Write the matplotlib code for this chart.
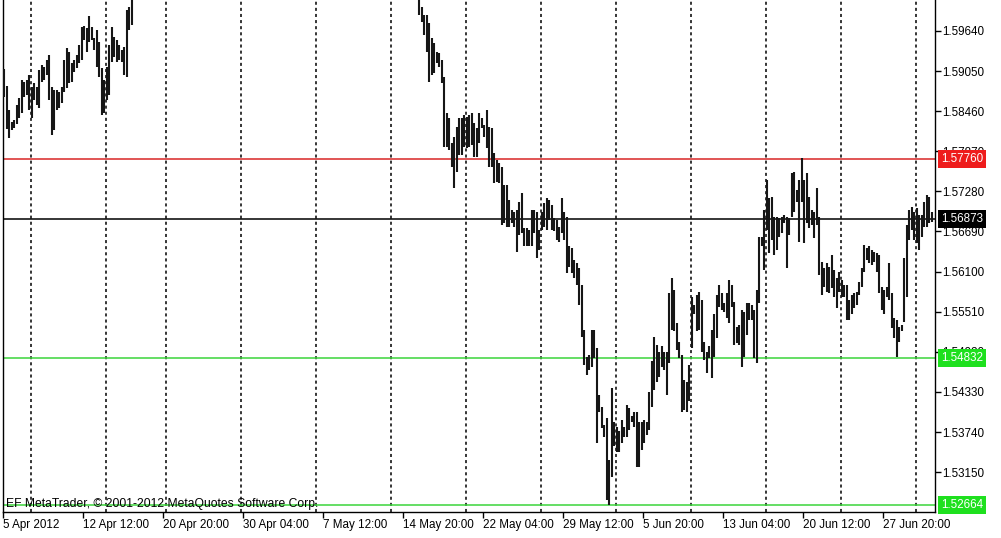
import matplotlib
matplotlib.use("Agg")
import matplotlib.pyplot as plt
import matplotlib.transforms as mtransforms
import numpy as np

# GBPUSD-style H4 bars (late April bars sit above the window)
left_start = 0
left_highs = [1.5908, 1.5883, 1.5848, 1.5830, 1.5833, 1.5855, 1.5866, 1.5892, 1.5889, 1.5892,
              1.5899, 1.5882, 1.5888, 1.5882, 1.5907, 1.5914, 1.5911, 1.5921, 1.5929, 1.5882,
              1.5877, 1.5877, 1.5874, 1.5882, 1.5921, 1.5939, 1.5933, 1.5917, 1.5921, 1.5929,
              1.5943, 1.5970, 1.5971, 1.5968, 1.5986, 1.5970, 1.5954, 1.5966, 1.5948, 1.5910,
              1.5892, 1.5911, 1.5943, 1.5970, 1.5955, 1.5951, 1.5943, 1.5936, 1.5941, 1.5995,
              1.5999, 1.6017]
left_lows = [1.5867, 1.5820, 1.5807, 1.5818, 1.5821, 1.5827, 1.5836, 1.5844, 1.5867, 1.5870,
             1.5848, 1.5836, 1.5863, 1.5855, 1.5851, 1.5889, 1.5892, 1.5899, 1.5863, 1.5811,
             1.5818, 1.5848, 1.5851, 1.5858, 1.5874, 1.5880, 1.5888, 1.5889, 1.5904, 1.5910,
             1.5917, 1.5921, 1.5951, 1.5933, 1.5948, 1.5951, 1.5936, 1.5911, 1.5896, 1.5841,
             1.5844, 1.5863, 1.5870, 1.5918, 1.5926, 1.5918, 1.5921, 1.5918, 1.5899, 1.5896,
             1.5966, 1.5973]

right_start = 166
right_highs = [1.6017, 1.5999, 1.5988, 1.5988, 1.5976, 1.5954, 1.5946, 1.5933, 1.5932, 1.5921,
               1.5896, 1.5844, 1.5836, 1.5799, 1.5808, 1.5823, 1.5836, 1.5836, 1.5841, 1.5838,
               1.5841, 1.5844, 1.5829, 1.5821, 1.5844, 1.5836, 1.5826, 1.5848, 1.5823, 1.5821,
               1.5785, 1.5774, 1.5770, 1.5764, 1.5738, 1.5738, 1.5715, 1.5701, 1.5698, 1.5701,
               1.5713, 1.5726, 1.5674, 1.5674, 1.5671, 1.5701, 1.5701, 1.5697, 1.5671, 1.5697,
               1.5711, 1.5719, 1.5715, 1.5708, 1.5689, 1.5686, 1.5676, 1.5719, 1.5698, 1.5691,
               1.5647, 1.5645, 1.5627, 1.5623, 1.5616,
               1.5591, 1.5524, 1.5485, 1.5488, 1.5524, 1.5524, 1.5498, 1.5429, 1.5411, 1.5385,
               1.5395, 1.5333, 1.5439, 1.5388, 1.5382, 1.5375, 1.5392, 1.5382, 1.5414, 1.5410,
               1.5397, 1.5404, 1.5403, 1.5388, 1.5388, 1.5392, 1.5388, 1.5433, 1.5478, 1.5514,
               1.5502, 1.5491, 1.5500, 1.5492, 1.5491, 1.5579, 1.5601, 1.5583, 1.5535, 1.5507,
               1.5488, 1.5451, 1.5448, 1.5473, 1.5573, 1.5561, 1.5576, 1.5580, 1.5568, 1.5507,
               1.5492, 1.5500, 1.5524, 1.5547, 1.5576, 1.5591, 1.5579, 1.5564, 1.5579, 1.5598,
               1.5591, 1.5566, 1.5529, 1.5532, 1.5554, 1.5551, 1.5564, 1.5564, 1.5561, 1.5554,
               1.5583, 1.5661, 1.5661, 1.5701, 1.5745, 1.5719, 1.5720, 1.5691, 1.5691, 1.5689,
               1.5691, 1.5694, 1.5691, 1.5689, 1.5755, 1.5757, 1.5730, 1.5745, 1.5777, 1.5745,
               1.5755, 1.5720, 1.5701, 1.5697, 1.5733, 1.5691, 1.5624, 1.5616, 1.5623, 1.5617,
               1.5635, 1.5612, 1.5601, 1.5610, 1.5598, 1.5591, 1.5591, 1.5568, 1.5576, 1.5579,
               1.5580, 1.5595, 1.5616, 1.5649, 1.5645, 1.5647, 1.5642, 1.5639, 1.5638, 1.5635,
               1.5588, 1.5583, 1.5588, 1.5623, 1.5579, 1.5542, 1.5539, 1.5529, 1.5532, 1.5630,
               1.5679, 1.5701, 1.5705, 1.5697, 1.5704, 1.5694, 1.5694, 1.5713, 1.5723, 1.5720,
               1.5698]
right_lows = [1.5988, 1.5977, 1.5958, 1.5933, 1.5889, 1.5899, 1.5902, 1.5917, 1.5911, 1.5888,
              1.5794, 1.5794, 1.5789, 1.5764, 1.5733, 1.5757, 1.5782, 1.5782, 1.5794, 1.5792,
              1.5794, 1.5796, 1.5779, 1.5779, 1.5799, 1.5821, 1.5808, 1.5792, 1.5764, 1.5764,
              1.5741, 1.5742, 1.5741, 1.5679, 1.5682, 1.5676, 1.5676, 1.5682, 1.5676, 1.5639,
              1.5664, 1.5667, 1.5647, 1.5647, 1.5647, 1.5647, 1.5667, 1.5630, 1.5642, 1.5671,
              1.5676, 1.5671, 1.5686, 1.5671, 1.5669, 1.5657, 1.5654, 1.5667, 1.5657, 1.5608,
              1.5617, 1.5608, 1.5601, 1.5591, 1.5561,
              1.5514, 1.5473, 1.5458, 1.5465, 1.5469, 1.5483, 1.5358, 1.5403, 1.5380, 1.5366,
              1.5274, 1.5267, 1.5308, 1.5353, 1.5344, 1.5344, 1.5358, 1.5367, 1.5366, 1.5377,
              1.5388, 1.5382, 1.5322, 1.5323, 1.5348, 1.5358, 1.5370, 1.5377, 1.5411, 1.5436,
              1.5447, 1.5455, 1.5469, 1.5465, 1.5429, 1.5476, 1.5524, 1.5522, 1.5495, 1.5483,
              1.5404, 1.5406, 1.5404, 1.5419, 1.5498, 1.5547, 1.5522, 1.5524, 1.5492, 1.5480,
              1.5461, 1.5483, 1.5454, 1.5485, 1.5513, 1.5558, 1.5554, 1.5550, 1.5542, 1.5535,
              1.5558, 1.5502, 1.5505, 1.5502, 1.5470, 1.5485, 1.5517, 1.5539, 1.5539, 1.5483,
              1.5476, 1.5564, 1.5647, 1.5612, 1.5671, 1.5638, 1.5657, 1.5635, 1.5642, 1.5661,
              1.5667, 1.5682, 1.5616, 1.5664, 1.5691, 1.5697, 1.5713, 1.5654, 1.5713, 1.5652,
              1.5682, 1.5674, 1.5679, 1.5660, 1.5679, 1.5605, 1.5576, 1.5588, 1.5580, 1.5579,
              1.5586, 1.5572, 1.5557, 1.5580, 1.5573, 1.5573, 1.5539, 1.5539, 1.5547, 1.5557,
              1.5561, 1.5576, 1.5588, 1.5610, 1.5627, 1.5623, 1.5620, 1.5624, 1.5610, 1.5579,
              1.5554, 1.5547, 1.5573, 1.5568, 1.5527, 1.5513, 1.5485, 1.5507, 1.5522, 1.5536,
              1.5573, 1.5657, 1.5671, 1.5657, 1.5652, 1.5642, 1.5661, 1.5676, 1.5676, 1.5682,
              1.5683]

# first bar of each trading week (vertical separators)
week_starts = [11, 41, 65, 95, 125, 155, 185, 215, 245, 275, 305, 335, 365]

date_bars = [0, 32, 64, 96, 128, 160, 192, 224, 256, 288, 320, 352]
date_labels = ["5 Apr 2012", "12 Apr 12:00", "20 Apr 20:00", "30 Apr 04:00", "7 May 12:00",
               "14 May 20:00", "22 May 04:00", "29 May 12:00", "5 Jun 20:00", "13 Jun 04:00",
               "20 Jun 12:00", "27 Jun 20:00"]

price_ticks = [1.59640, 1.59050, 1.58460, 1.57870, 1.57280, 1.56690,
               1.56100, 1.55510, 1.54920, 1.54330, 1.53740, 1.53150]

levels = [1.57760, 1.56873, 1.54832, 1.52664]
level_line_colors = ["#d92626", "#000000", "#3ad43a", "#3ad43a"]
level_box_colors = ["#ee1c1c", "#000000", "#1ee01e", "#1ee01e"]

plt.rcParams["font.family"] = ["Liberation Sans", "DejaVu Sans"]
plt.rcParams["font.size"] = 8.4

W, H = 1001, 538
fig = plt.figure(figsize=(W / 100, H / 100), dpi=100)
ax = fig.add_axes([3 / W, 26 / H, 932 / W, 512 / H])

for w in week_starts:
    ax.axvline(w - 0.5, color="black", linewidth=1.1, linestyle=(0, (2, 2)), zorder=1)

for y, c in zip(levels, level_line_colors):
    ax.axhline(y, color=c, linewidth=1.1, zorder=2)

for start, hi, lo in [(left_start, left_highs, left_lows), (right_start, right_highs, right_lows)]:
    idx = np.arange(start, start + len(hi))
    ax.vlines(idx, lo, hi, color="#161616", linewidth=1.5, zorder=3)

ax.set_xlim(-0.5, 372.3)
ax.set_ylim(1.52563, 1.60096)

ax.set_xticks([b - 0.5 for b in date_bars])
ax.set_xticklabels(date_labels)
for lab in ax.get_xticklabels():
    lab.set_horizontalalignment("left")
ax.tick_params(axis="x", length=4, width=1, pad=1.0, colors="black")

ax.yaxis.tick_right()
ax.set_yticks(price_ticks)
ax.set_yticklabels([f"{p:.5f}" for p in price_ticks])
ax.tick_params(axis="y", length=4, width=1, pad=1.0, colors="black")

ax.spines["top"].set_visible(False)
for s in ["left", "right", "bottom"]:
    ax.spines[s].set_linewidth(1.0)
    ax.spines[s].set_color("black")

# price labels of the horizontal lines, drawn over the axis labels like the terminal does
trans = mtransforms.blended_transform_factory(ax.transAxes, ax.transData)
for y, c in zip(levels, level_box_colors):
    ax.text(1.0 + 6 / 932, y, f"{y:.5f}", transform=trans, ha="left", va="center",
            color="white", clip_on=False, zorder=6,
            bbox=dict(boxstyle="square,pad=0.28", fc=c, ec="none"))

ax.text(3 / 932, 8 / 512, "EF MetaTrader, \u00a9 2001-2012 MetaQuotes Software Corp.",
        transform=ax.transAxes, ha="left", va="center", fontsize=8.7, zorder=5)

fig.savefig("out.png", dpi=100, facecolor="white")
